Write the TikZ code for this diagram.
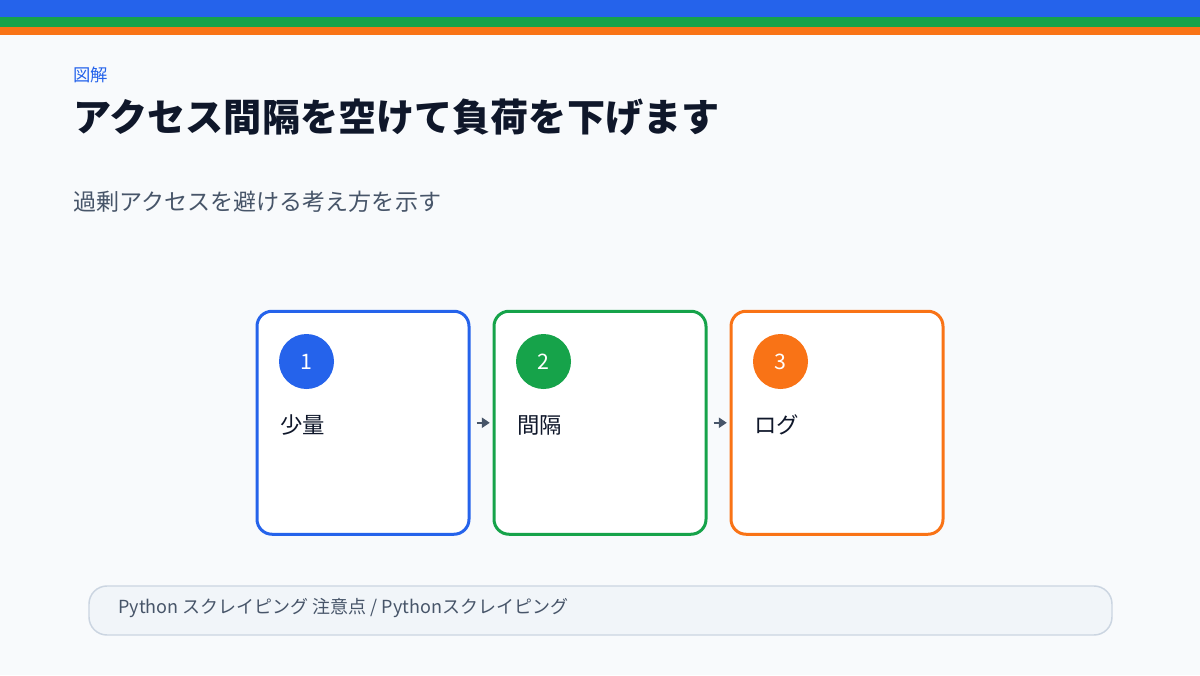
\documentclass[tikz,border=0pt]{standalone}
\usepackage{fontspec}
\setmainfont{Noto Sans CJK JP}
\usetikzlibrary{arrows.meta}
\definecolor{bgc}{HTML}{F8FAFC}
\definecolor{cblue}{HTML}{2563EB}
\definecolor{cgreen}{HTML}{16A34A}
\definecolor{corange}{HTML}{F97316}
\definecolor{ctitle}{HTML}{0F172A}
\definecolor{csub}{HTML}{475569}
\definecolor{cfootfill}{HTML}{F1F5F9}
\definecolor{cfootline}{HTML}{CBD5E1}
\begin{document}
\begin{tikzpicture}[x=0.75pt,y=-0.75pt,
  txt/.style={inner sep=0pt,anchor=west},
  stepbox/.style={draw,fill=white,line width=2.25pt,rounded corners=11.25pt,minimum width=159pt,minimum height=167.25pt,inner sep=0pt},
  badge/.style={circle,minimum size=41.25pt,inner sep=0pt,text=white,font=\fontsize{16}{19}\selectfont},
  lab/.style={txt,text=ctitle,font=\fontsize{16.8}{20}\selectfont},
  arr/.style={draw=csub,line width=1.5pt,-{Triangle[length=6pt,width=7.5pt]}}]
\useasboundingbox (0,0) rectangle (1200,675);
\fill[bgc] (0,0) rectangle (1200,675);
\fill[cblue] (0,0) rectangle (1200,17.3);
\fill[cgreen] (0,17.3) rectangle (1200,26.7);
\fill[corange] (0,26.7) rectangle (1200,34.7);
\node[txt,text=cblue,font=\fontsize{13}{15}\selectfont] (kicker) at (73,75) {図解};
\node[txt,text=ctitle,font=\fontsize{28.6}{34}\selectfont\bfseries] (title) at (73,117) {アクセス間隔を空けて負荷を下げます};
\node[txt,text=csub,font=\fontsize{17.3}{20}\selectfont] (sub) at (73,202) {過剰アクセスを避ける考え方を示す};
\node[stepbox,draw=cblue] (b1) at (363,422.75) {};
\node[stepbox,draw=cgreen] (b2) at (600,422.75) {};
\node[stepbox,draw=corange] (b3) at (837,422.75) {};
\node[badge,fill=cblue] (c1) at (306.5,361.5) {1};
\node[badge,fill=cgreen] (c2) at (543.5,361.5) {2};
\node[badge,fill=corange] (c3) at (780.5,361.5) {3};
\node[lab] (l1) at (280,425) {少量};
\node[lab] (l2) at (517,425) {間隔};
\node[lab] (l3) at (754,425) {ログ};
\draw[arr] ([xshift=4.5pt]b1.east) -- ([xshift=-2pt]b2.west);
\draw[arr] ([xshift=4.5pt]b2.east) -- ([xshift=-2pt]b3.west);
\node[draw=cfootline,fill=cfootfill,line width=1.1pt,rounded corners=13.5pt,minimum width=767.25pt,minimum height=36.75pt,inner sep=0pt] (foot) at (600.5,610.5) {};
\node[txt,text=csub,font=\fontsize{13.5}{16}\selectfont] (ftxt) at (118,608) {Python スクレイピング 注意点 / Pythonスクレイピング};
\end{tikzpicture}
\end{document}
